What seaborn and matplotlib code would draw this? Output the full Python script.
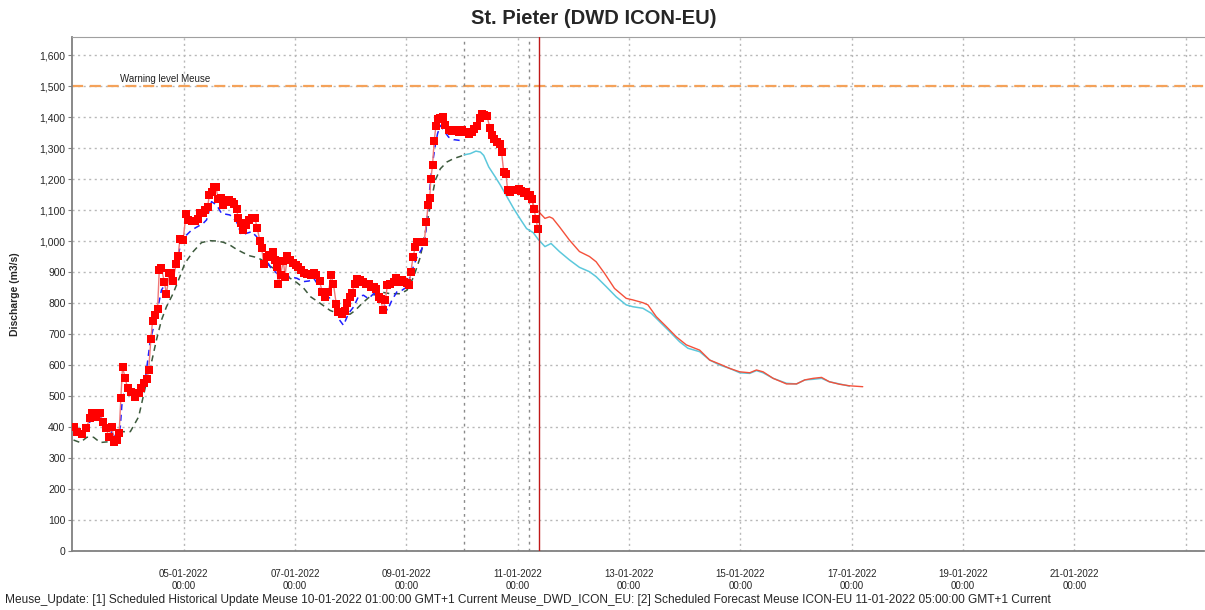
import matplotlib
matplotlib.use("Agg")
from matplotlib import pyplot as plt
import matplotlib.dates as mdates
from matplotlib.ticker import FuncFormatter, MultipleLocator
import pandas as pd
import seaborn as sns

start = pd.Timestamp("2022-01-03 00:00")

# observed discharge (days after 03-01-2022 00:00, m3/s)
obs_days = [0.02, 0.08, 0.17, 0.25, 0.31, 0.35, 0.43, 0.49, 0.55, 0.60, 0.66, 0.71, 0.75, 0.80, 0.84,
            0.87, 0.90, 0.95, 0.99, 1.05, 1.13, 1.19, 1.23, 1.29, 1.34, 1.37, 1.41, 1.44, 1.49, 1.53,
            1.56, 1.60, 1.65, 1.69, 1.74, 1.78, 1.81, 1.86, 1.90, 1.93, 1.99, 2.04, 2.08, 2.14, 2.20,
            2.25, 2.29, 2.34, 2.38, 2.43, 2.46, 2.50, 2.54, 2.58, 2.62, 2.67, 2.71, 2.76, 2.81, 2.86,
            2.91, 2.95, 2.98, 3.02, 3.07, 3.12, 3.17, 3.22, 3.28, 3.32, 3.37, 3.40, 3.44, 3.49, 3.54,
            3.60, 3.64, 3.67, 3.70, 3.74, 3.79, 3.82, 3.86, 3.91, 3.96, 4.01, 4.06, 4.11, 4.16, 4.22,
            4.28, 4.34, 4.38, 4.44, 4.49, 4.54, 4.60, 4.65, 4.69, 4.74, 4.78, 4.84, 4.89, 4.93, 4.98,
            5.02, 5.07, 5.11, 5.16, 5.22, 5.27, 5.32, 5.37, 5.41, 5.46, 5.50, 5.54, 5.58, 5.62, 5.66,
            5.71, 5.77, 5.82, 5.86, 5.92, 5.96, 6.01, 6.05, 6.08, 6.12, 6.16, 6.20, 6.26, 6.32, 6.36,
            6.39, 6.42, 6.44, 6.47, 6.50, 6.53, 6.56, 6.61, 6.66, 6.70, 6.76, 6.82, 6.88, 6.94, 7.00,
            7.06, 7.12, 7.18, 7.22, 7.27, 7.32, 7.36, 7.40, 7.45, 7.50, 7.54, 7.58, 7.63, 7.68, 7.71,
            7.75, 7.79, 7.82, 7.86, 7.90, 7.96, 8.02, 8.06, 8.11, 8.15, 8.19, 8.23, 8.26, 8.29, 8.33,
            8.36]
obs_vals = [401, 385, 378, 396, 428, 444, 433, 444, 417, 396, 369, 401, 353, 358, 382,
            493, 593, 557, 525, 514, 496, 509, 527, 541, 555, 584, 684, 743, 761, 780,
            906, 912, 869, 829, 896, 896, 872, 925, 952, 1005, 1003, 1087, 1068, 1065, 1066,
            1070, 1089, 1089, 1100, 1111, 1148, 1159, 1173, 1173, 1134, 1138, 1116, 1127, 1132, 1127,
            1119, 1102, 1073, 1057, 1035, 1052, 1068, 1073, 1073, 1041, 1001, 976, 926, 947, 955,
            966, 939, 917, 861, 890, 937, 885, 953, 939, 928, 923, 915, 906, 897, 895,
            889, 897, 889, 871, 835, 821, 835, 889, 860, 798, 771, 766, 774, 800, 819,
            833, 862, 878, 875, 868, 862, 860, 852, 852, 846, 821, 814, 776, 809, 857,
            862, 868, 881, 868, 873, 868, 864, 859, 900, 948, 981, 997, 997, 997, 1061,
            1115, 1140, 1201, 1244, 1323, 1370, 1395, 1398, 1400, 1373, 1359, 1355, 1357, 1352, 1357,
            1352, 1346, 1352, 1362, 1370, 1398, 1411, 1405, 1402, 1366, 1341, 1330, 1319, 1312, 1287,
            1223, 1217, 1163, 1158, 1163, 1163, 1169, 1160, 1155, 1158, 1144, 1148, 1137, 1104, 1072,
            1040]

# historical update simulation (blue dashed)
upd_days = [0.02, 0.15, 0.28, 0.40, 0.50, 0.62, 0.72, 0.80, 0.86, 0.90, 1.00, 1.10, 1.20, 1.30, 1.40,
            1.49, 1.60, 1.75, 1.87, 1.96, 2.02, 2.14, 2.35, 2.41, 2.50, 2.59, 2.68, 2.83, 2.95, 3.04,
            3.13, 3.22, 3.31, 3.40, 3.55, 3.67, 3.79, 3.91, 4.03, 4.15, 4.25, 4.34, 4.40, 4.49, 4.57,
            4.66, 4.72, 4.78, 4.87, 4.96, 5.05, 5.14, 5.23, 5.32, 5.41, 5.50, 5.59, 5.66, 5.74, 5.83,
            5.92, 6.01, 6.10, 6.19, 6.28, 6.34, 6.40, 6.46, 6.52, 6.56, 6.61, 6.67, 6.76, 6.85, 6.94,
            7.00]
upd_vals = [385, 378, 410, 432, 435, 400, 380, 355, 400, 500, 525, 510, 512, 540, 681,
            745, 842, 885, 928, 1003, 1014, 1035, 1057, 1068, 1127, 1116, 1089, 1084, 1062, 1019,
            1025, 1030, 1014, 971, 917, 896, 885, 885, 880, 869, 871, 879, 862, 830, 814,
            819, 787, 750, 728, 766, 787, 821, 825, 814, 830, 828, 798, 776, 809, 836,
            841, 852, 905, 948, 975, 1013, 1131, 1239, 1309, 1346, 1373, 1357, 1335, 1327, 1325,
            1323]

# second simulation (dark green dashed)
sim_days = [0.02, 0.14, 0.26, 0.38, 0.50, 0.68, 0.86, 1.04, 1.19, 1.34, 1.43, 1.51, 1.60, 1.69, 1.81,
            1.93, 2.02, 2.17, 2.32, 2.47, 2.59, 2.71, 2.83, 2.95, 3.07, 3.19, 3.31, 3.43, 3.55, 3.67,
            3.79, 3.91, 4.03, 4.15, 4.28, 4.46, 4.63, 4.75, 4.87, 4.99, 5.08, 5.20, 5.32, 5.53, 5.71,
            5.89, 6.01, 6.13, 6.25, 6.37, 6.46, 6.52, 6.61, 6.73, 6.85, 6.97, 7.04]
sim_vals = [358, 350, 367, 367, 350, 353, 385, 385, 433, 552, 616, 681, 745, 788, 831,
            885, 928, 966, 995, 1001, 1000, 996, 987, 973, 962, 952, 947, 937, 919, 906,
            890, 880, 866, 849, 820, 798, 776, 768, 766, 764, 776, 798, 817, 836, 830,
            830, 841, 884, 948, 1056, 1142, 1196, 1233, 1255, 1266, 1273, 1278]

# forecast from historical run (cyan)
cyan_days = [7.04, 7.15, 7.25, 7.33, 7.39, 7.48, 7.60, 7.69, 7.81, 7.93, 8.05, 8.16, 8.28, 8.37, 8.49,
             8.60, 8.75, 8.93, 9.11, 9.29, 9.41, 9.59, 9.77, 9.95, 10.07, 10.25, 10.40, 10.55, 10.73,
             10.91, 11.06, 11.27, 11.45, 11.63, 11.81, 11.99, 12.17, 12.29, 12.41, 12.59, 12.83,
             13.01, 13.16, 13.31, 13.46, 13.60, 13.78, 13.96]
cyan_vals = [1278, 1282, 1290, 1287, 1276, 1239, 1206, 1180, 1142, 1104, 1070, 1040, 1027, 1005, 982,
             992, 966, 939, 915, 901, 885, 853, 820, 794, 788, 783, 767, 740, 708,
             675, 654, 643, 616, 600, 589, 575, 573, 582, 575, 557, 541,
             539, 552, 554, 557, 546, 539, 532]

# ICON-EU forecast (red)
fc_days = [8.21, 8.29, 8.38, 8.49, 8.57, 8.63, 8.75, 8.93, 9.11, 9.29, 9.41, 9.56, 9.74, 9.95, 10.07,
           10.25, 10.34, 10.49, 10.67, 10.85, 11.03, 11.27, 11.45, 11.63, 11.81, 11.99, 12.17, 12.29,
           12.41, 12.59, 12.83, 13.01, 13.16, 13.31, 13.46, 13.60, 13.78, 13.96, 14.20]
fc_vals = [1140, 1115, 1094, 1073, 1078, 1073, 1046, 1003, 966, 950, 933, 896, 847, 815, 810,
           801, 794, 756, 724, 691, 665, 648, 616, 603, 589, 578, 575, 584,
           578, 557, 539, 539, 552, 557, 560, 546, 538, 533, 530]

warning_level = 1500
update_time = pd.Timestamp("2022-01-10 01:00")
forecast_time = pd.Timestamp("2022-01-11 05:00")
now_time = pd.Timestamp("2022-01-11 09:00")
last_label = pd.Timestamp("2022-01-21 00:00")


def frame(days, vals):
    return pd.DataFrame({"time": start + pd.to_timedelta(days, unit="D"), "q": vals})


def date_label(x, pos):
    t = mdates.num2date(x).replace(tzinfo=None)
    if t > last_label:
        return ""
    return t.strftime("%d-%m-%Y\n%H:%M")


obs = frame(obs_days, obs_vals)
upd = frame(upd_days, upd_vals)
sim = frame(sim_days, sim_vals)
cyan = frame(cyan_days, cyan_vals)
fc = frame(fc_days, fc_vals)

sns.set_style("white")
plt.rcParams["font.family"] = ["Liberation Sans", "DejaVu Sans"]

fig = plt.figure(figsize=(12.05, 6.10), dpi=100)
ax = fig.add_axes([0.0601, 0.0967, 0.939, 0.8426])

grid = "#b8b8b8"
ax.grid(True, color=grid, linestyle=(0, (1.5, 2.5)), linewidth=1)
ax.axhline(warning_level, color="#f4a25a", linestyle=(0, (5, 3)), linewidth=1.6, zorder=2)
ax.text(start + pd.Timedelta(hours=20.5), warning_level + 8, "Warning level Meuse",
        fontsize=7, color="#222222", va="bottom")

sns.lineplot(data=sim, x="time", y="q", ax=ax, color="#3d5a3d", linestyle=(0, (4, 3)),
             linewidth=1.1, errorbar=None, zorder=3)
sns.lineplot(data=upd, x="time", y="q", ax=ax, color="#1f1fff", linestyle=(0, (4, 3)),
             linewidth=1.1, errorbar=None, zorder=3)
sns.lineplot(data=cyan, x="time", y="q", ax=ax, color="#5cc8dc", linewidth=1.1,
             errorbar=None, zorder=3)
sns.lineplot(data=fc, x="time", y="q", ax=ax, color="#f4503a", linewidth=1.0,
             errorbar=None, zorder=4)
sns.lineplot(data=obs, x="time", y="q", ax=ax, color="#f07878", linewidth=1.0,
             errorbar=None, zorder=5)
sns.scatterplot(data=obs, x="time", y="q", ax=ax, color="#ff0000", marker="s", s=26,
                linewidth=0, zorder=6)

ax.axvline(update_time, color="#8a8a8a", linestyle=(0, (2, 3)), linewidth=1, zorder=2)
ax.axvline(forecast_time, color="#8a8a8a", linestyle=(0, (2, 3)), linewidth=1, zorder=2)
ax.axvline(now_time, color="#c01818", linewidth=1, zorder=7)

ax.set_xlim(start, start + pd.Timedelta(days=20.33))
ax.set_ylim(0, 1658)
ax.yaxis.set_major_locator(MultipleLocator(100))
ax.yaxis.set_major_formatter(FuncFormatter(lambda v, p: f"{v:,.0f}"))
ax.xaxis.set_major_locator(mdates.DayLocator(bymonthday=range(5, 32, 2)))
ax.xaxis.set_major_formatter(FuncFormatter(date_label))

ax.tick_params(axis="y", labelsize=7.5, length=3, color="#808080", pad=2, left=True)
ax.tick_params(axis="x", labelsize=7, length=0, pad=13)
for lab in ax.get_xticklabels():
    lab.set_linespacing(1.3)

ax.set_xlabel("")
ax.set_ylabel("Discharge (m3/s)", fontsize=7.5, fontweight="bold")
ax.yaxis.set_label_coords(-0.046, 0.5)
for side in ["left", "bottom"]:
    ax.spines[side].set_color("#808080")
    ax.spines[side].set_linewidth(1.3)
ax.spines["top"].set_color("#a0a0a0")
ax.spines["right"].set_visible(False)

fig.text(0.493, 0.970, "St. Pieter (DWD ICON-EU)", ha="center", va="center",
         fontsize=14.5, fontweight="bold")
fig.text(0.004, 0.016, "Meuse_Update: [1] Scheduled Historical Update Meuse 10-01-2022 01:00:00 GMT+1 "
         "Current Meuse_DWD_ICON_EU: [2] Scheduled Forecast Meuse ICON-EU 11-01-2022 05:00:00 GMT+1 Current",
         ha="left", va="center", fontsize=8.6)

fig.savefig("out.png", dpi=100)
